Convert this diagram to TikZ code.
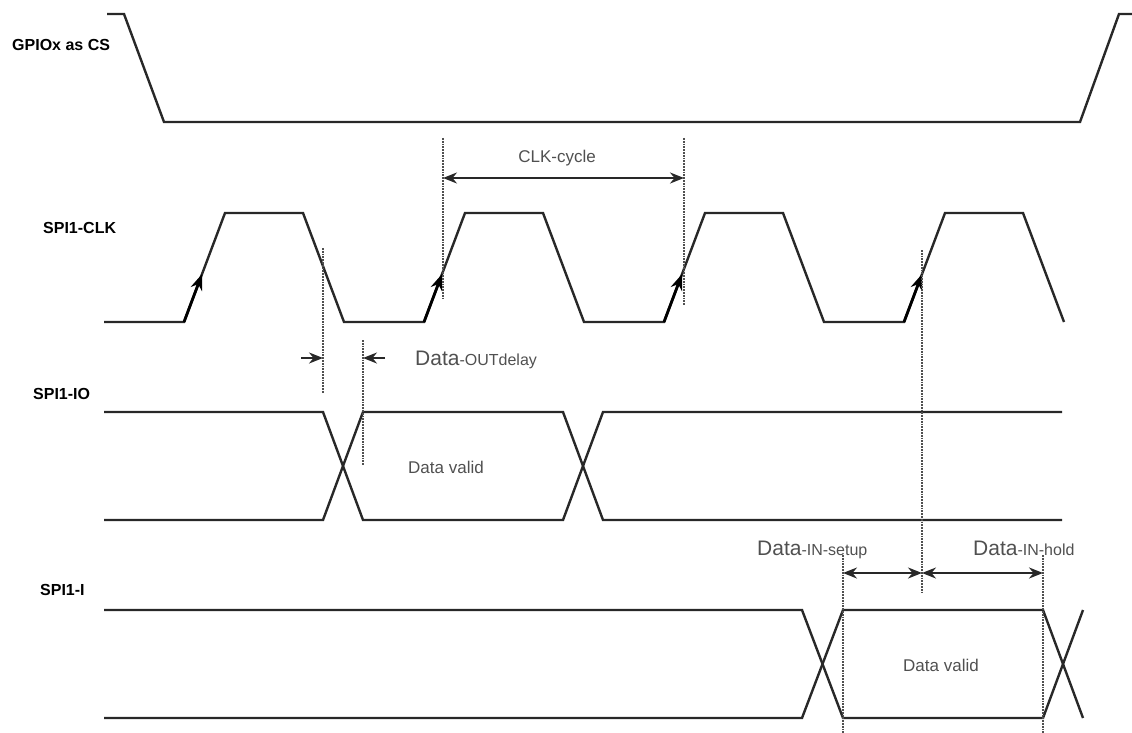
\documentclass[tikz,border=0pt]{standalone}
\usepackage{fontspec}
\setmainfont{Liberation Sans}
\usetikzlibrary{arrows.meta,calc}
\definecolor{wavegray}{RGB}{40,40,40}
\definecolor{dimgray} {RGB}{80,80,80}

\newcommand{\dimtxt}[2]{{\fontsize{21}{24}\selectfont #1}{\fontsize{16}{18}\selectfont #2}}

\begin{document}
\begin{tikzpicture}[x=1pt,y=-1pt,
  wave/.style={draw=wavegray,line width=2.4pt,line join=miter},
  guide/.style={draw=dimgray,densely dotted,line width=1.8pt},
  dimarr/.style={{Stealth[length=14pt,width=11pt]}-{Stealth[length=14pt,width=11pt]},
                 line width=2pt,wavegray},
  onearr/.style={-{Stealth[length=14pt,width=11pt]},line width=2pt,wavegray},
  edgearr/.style={-{Stealth[length=16pt,width=12pt]},line width=2.8pt,black},
  sig/.style={font=\fontsize{16}{18}\selectfont\bfseries,anchor=west,inner sep=0pt},
  note/.style={font=\fontsize{17}{20}\selectfont,text=dimgray,inner sep=0pt},
]
\useasboundingbox (0,0) rectangle (1132,733);

%% ── Signal names ──────────────────────────────────────────────
\node[sig] (csname)  at (12,45)  {GPIOx as CS};
\node[sig] (clkname) at (43,228) {SPI1-CLK};
\node[sig] (ioname)  at (33,394) {SPI1-IO};
\node[sig] (iname)   at (40,590) {SPI1-I};

%% ── GPIOx as CS ───────────────────────────────────────────────
\draw[wave] (107,14) -- (124,14) -- (164,122) -- (1080,122) -- (1119,14) -- (1132,14);

%% ── SPI1-CLK ──────────────────────────────────────────────────
\draw[wave] (104,322)
  \foreach \t in {184,424,664,904} {
    -- (\t,322) -- (\t+41,213) -- (\t+119,213) -- (\t+160,322)
  };
\foreach \t in {184,424,664,904}
  \draw[edgearr] (\t,322) -- ($(\t,322)!0.44!(\t+41,213)$);

%% ── SPI1-IO ───────────────────────────────────────────────────
\draw[wave] (104,412) -- (323,412) -- (363,520) -- (563,520) -- (603,412) -- (1062,412);
\draw[wave] (104,520) -- (323,520) -- (363,412) -- (563,412) -- (603,520) -- (1062,520);
\node[note] (iovalid) at (446,467) {Data valid};

%% ── SPI1-I ────────────────────────────────────────────────────
\draw[wave] (104,610) -- (802,610) -- (843,718) -- (1043,718) -- (1083,610);
\draw[wave] (104,718) -- (802,718) -- (843,610) -- (1043,610) -- (1083,718);
\node[note] (ivalid) at (941,665) {Data valid};

%% ── Guides (dotted) ───────────────────────────────────────────
\draw[guide] (443,138) -- (443,300);
\draw[guide] (684,138) -- (684,305);
\draw[guide] (323,248) -- (323,393);
\draw[guide] (363,340) -- (363,465);
\draw[guide] (922,250) -- (922,592);
\draw[guide] (843,555) -- (843,733);
\draw[guide] (1043,555) -- (1043,733);

%% ── CLK-cycle ─────────────────────────────────────────────────
\coordinate (cycL) at (443,178);
\coordinate (cycR) at (684,178);
\draw[dimarr] (cycL) -- (cycR);
\node[note] (cyctxt) at (557,158) {CLK-cycle};

%% ── Data-OUTdelay ─────────────────────────────────────────────
\coordinate (odL)  at (323,358);
\coordinate (odLs) at (301,358);
\coordinate (odR)  at (363,358);
\coordinate (odRs) at (385,358);
\draw[onearr] (odLs) -- (odL);
\draw[onearr] (odRs) -- (odR);
\node[anchor=base west,inner sep=0pt,text=dimgray] (odtxt) at (415,365) {\dimtxt{Data}{-OUTdelay}};

%% ── Data-IN setup / hold ──────────────────────────────────────
\coordinate (suL) at (843,573);
\coordinate (suM) at (922,573);
\coordinate (suR) at (1043,573);
\draw[dimarr] (suL) -- (suM);
\draw[dimarr] (suM) -- (suR);
\node[anchor=base west,inner sep=0pt,text=dimgray] (sutxt) at (757,555) {\dimtxt{Data}{-IN-setup}};
\node[anchor=base west,inner sep=0pt,text=dimgray] (hdtxt) at (973,555) {\dimtxt{Data}{-IN-hold}};

\end{tikzpicture}
\end{document}
